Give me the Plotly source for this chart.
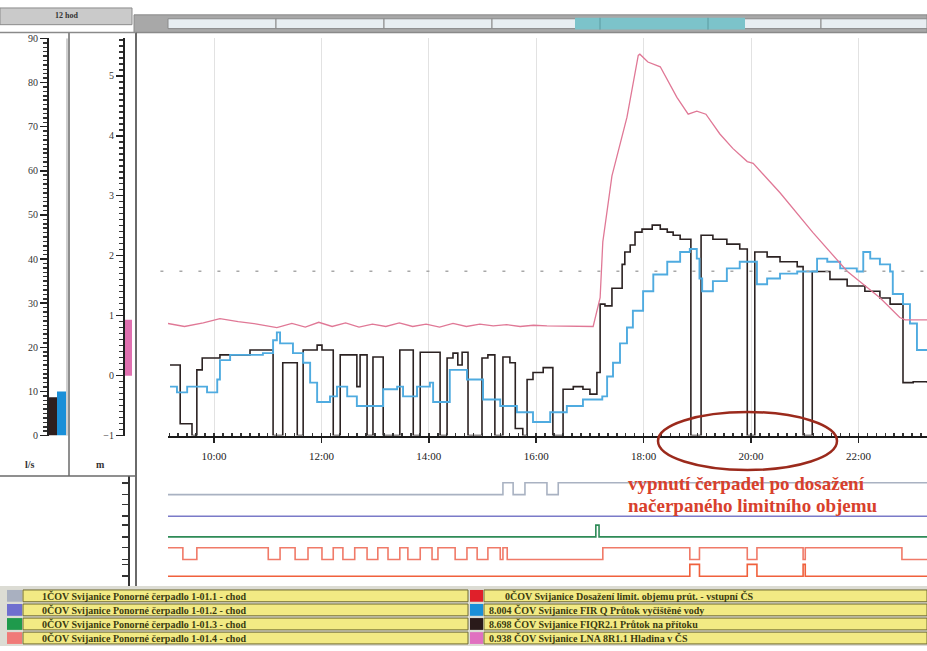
import plotly.graph_objects as go

W, H = 927, 651


def px(x):
    return x / W


def py(y):
    return 1 - y / H


# ---------------- data ----------------
hour_ticks = [10, 12, 14, 16, 18, 20, 22]
hour_labels = ["10:00", "12:00", "14:00", "16:00", "18:00", "20:00", "22:00"]
flow_ticks = [0, 10, 20, 30, 40, 50, 60, 70, 80, 90]
level_ticks = [-1, 0, 1, 2, 3, 4, 5]

# FIQR2.1 Průtok na přítoku [l/s] (step series)
inflow_t = [9.18, 9.37, 9.59, 9.68, 9.78, 10.11, 10.67, 11.10, 11.28, 11.55,
            11.66, 11.92, 12.01, 12.22, 12.35, 12.66, 12.72, 12.85, 12.96, 13.15,
            13.46, 13.71, 13.84, 14.21, 14.34, 14.45, 14.54, 14.62, 14.73, 14.99,
            15.10, 15.23, 15.38, 15.51, 15.61, 15.75, 15.83, 15.94, 16.13, 16.31,
            16.50, 16.69, 16.87, 17.00, 17.13, 17.19, 17.28, 17.41, 17.60, 17.65,
            17.75, 17.84, 17.97, 18.16, 18.31, 18.44, 18.55, 18.68, 18.88, 19.07,
            19.29, 19.55, 19.79, 19.93, 20.07, 20.30, 20.54, 20.86, 20.97, 21.14,
            21.47, 21.79, 22.12, 22.40, 22.59, 22.83, 23.02, 23.28]
inflow_v = [16.0, 2.7, 0, 14.9, 17.6, 18.3, 19.4, 0, 16.5, 0,
            19.4, 20.5, 19.4, 0, 18.3, 11.1, 18.3, 0, 17.8, 0,
            19.4, 0, 18.9, 0, 17.6, 18.7, 16.0, 18.9, 0, 17.6,
            18.3, 0, 17.8, 16.5, 1.6, 0, 12.7, 14.3, 15.4, 0,
            10.5, 11.1, 10.5, 9.4, 14.3, 29.8, 29.4, 33.4, 38.8, 41.6,
            43.2, 46.1, 46.8, 47.7, 46.8, 46.1, 45.4, 44.5, 0, 45.4,
            44.5, 43.4, 42.3, 0, 41.6, 40.5, 39.4, 38.3, 0, 37.2,
            35.4, 33.9, 32.7, 31.2, 29.8, 12.0, 12.2, 12.0]

# FIR Q Průtok vyčištěné vody [l/s]
outflow_t = [9.18, 9.31, 9.50, 9.68, 9.87, 10.06, 10.11, 10.30, 10.61, 10.91,
             11.10, 11.17, 11.23, 11.47, 11.66, 11.79, 11.92, 12.16, 12.29, 12.48,
             12.66, 12.91, 13.15, 13.41, 13.52, 13.78, 14.02, 14.08, 14.39, 14.71,
             15.01, 15.33, 15.64, 15.94, 16.26, 16.57, 16.87, 17.06, 17.23, 17.32,
             17.43, 17.56, 17.69, 17.80, 17.99, 18.18, 18.44, 18.68, 18.86, 18.99,
             19.04, 19.09, 19.29, 19.55, 19.79, 19.98, 20.11, 20.30, 20.54, 20.86,
             21.15, 21.23, 21.42, 21.66, 21.97, 22.09, 22.22, 22.40, 22.59, 22.64,
             22.83, 22.96, 23.09, 23.28]
outflow_v = [11.1, 9.8, 11.1, 11.1, 9.8, 12.7, 17.1, 18.3, 18.3, 18.7,
             21.6, 23.4, 20.9, 18.7, 16.5, 12.0, 7.6, 8.9, 11.1, 8.9,
             6.7, 6.7, 10.5, 11.1, 8.9, 11.1, 12.0, 7.6, 14.9, 12.7,
             8.2, 6.7, 5.3, 3.1, 5.3, 6.7, 8.2, 8.2, 8.9, 13.4,
             16.5, 20.9, 24.5, 28.3, 32.7, 36.5, 39.4, 41.6, 42.3, 40.1,
             35.6, 32.7, 35.0, 37.9, 39.4, 39.4, 34.3, 35.6, 36.7, 37.2,
             37.2, 40.1, 39.4, 37.9, 37.2, 41.6, 40.1, 38.8, 37.2, 32.1,
             29.8, 25.4, 19.4, 19.4]

# LNA 8R1.1 Hladina v ČS [m]
level_t = [9.14, 9.45, 9.80, 10.11, 10.45, 10.80, 11.17, 11.45, 11.70, 11.95,
           12.20, 12.45, 12.70, 12.95, 13.20, 13.45, 13.70, 13.95, 14.20, 14.45,
           14.70, 14.95, 15.20, 15.45, 15.70, 15.95, 16.20, 16.50, 16.80, 17.06,
           17.19, 17.24, 17.41, 17.69, 17.90, 17.93, 18.08, 18.31, 18.62, 18.83,
           18.99, 19.16, 19.42, 19.66, 19.93, 20.04, 20.54, 21.15, 21.79, 22.40,
           22.77, 22.87, 23.28]
level_v = [0.87, 0.82, 0.88, 0.95, 0.90, 0.86, 0.80, 0.87, 0.81, 0.89,
           0.82, 0.88, 0.81, 0.86, 0.82, 0.88, 0.82, 0.86, 0.81, 0.87,
           0.82, 0.86, 0.83, 0.85, 0.82, 0.84, 0.83, 0.83, 0.83, 0.82,
           1.30, 2.23, 3.33, 4.31, 5.34, 5.36, 5.23, 5.15, 4.64, 4.36,
           4.41, 4.36, 4.03, 3.79, 3.57, 3.54, 3.05, 2.39, 1.74, 1.30,
           0.97, 0.93, 0.93]

limit_level = 1.74          # dotted reference level [m]
gauge_inflow = 8.7          # current value bars
gauge_outflow = 10.0
gauge_level = 0.93

# digital signals (state changes: time, state)
pump1_t = [9.14, 15.38, 15.57, 15.79, 16.20, 16.41, 23.28]
pump1_s = [0, 1, 0, 1, 0, 1, 1]
pump2_t = [9.14, 23.28]
pump2_s = [0, 0]
pump3_t = [9.14, 17.11, 17.17, 23.28]
pump3_s = [0, 1, 0, 0]
pump4_t = [9.14, 9.42, 9.68, 11.01, 11.23, 11.51, 11.75, 12.01, 12.22, 12.40,
           12.62, 12.85, 13.05, 13.24, 13.46, 13.61, 13.84, 14.06, 14.17, 14.49,
           14.71, 14.90, 15.10, 15.33, 15.38, 15.46, 17.24, 18.86, 19.04, 19.93,
           20.11, 20.97, 21.01, 22.81, 23.28]
pump4_s = [1, 0, 1, 0, 1, 0, 1, 0, 1, 0,
           1, 0, 1, 0, 1, 0, 1, 0, 1, 0,
           1, 0, 1, 0, 1, 0, 1, 0, 1, 0,
           1, 0, 1, 0, 0]
limit_t = [9.14, 18.86, 19.04, 19.93, 20.11, 20.97, 21.01, 23.28]
limit_s = [0, 1, 0, 1, 0, 1, 0, 0]

legend_left = ["1ČOV Svijanice Ponorné čerpadlo 1-01.1 - chod",
               "0ČOV Svijanice Ponorné čerpadlo 1-01.2 - chod",
               "0ČOV Svijanice Ponorné čerpadlo 1-01.3 - chod",
               "0ČOV Svijanice Ponorné čerpadlo 1-01.4 - chod"]
legend_right = ["0ČOV Svijanice Dosažení limit. objemu prút. - vstupní ČS",
                "8.004 ČOV Svijanice FIR Q Průtok vyčištěné vody",
                "8.698 ČOV Svijanice FIQR2.1 Průtok na přítoku",
                "0.938 ČOV Svijanice LNA 8R1.1 Hladina v ČS"]
legend_left_colors = ["#a9b0c0", "#6f6fcf", "#1f9a4c", "#f07a78"]
legend_right_colors = ["#e0202a", "#1a8fd8", "#2a1a1a", "#e070c0"]

note_lines = ["vypnutí čerpadel po dosažení", "načerpaného limitního objemu"]

# ---------------- figure ----------------
SERIF = "Liberation Serif"
fig = go.Figure()

fig.add_trace(go.Scatter(x=inflow_t, y=inflow_v, mode="lines", line_shape="hv",
                         line=dict(color="#2b2222", width=1.6), xaxis="x", yaxis="y"))
fig.add_trace(go.Scatter(x=outflow_t, y=outflow_v, mode="lines", line_shape="hv",
                         line=dict(color="#4fabe0", width=1.9), xaxis="x", yaxis="y"))
fig.add_trace(go.Scatter(x=level_t, y=level_v, mode="lines",
                         line=dict(color="#e07896", width=1.3), xaxis="x", yaxis="y2"))

dig = [
    (pump1_t, pump1_s, 93, "#a9b2c2"),
    (pump2_t, pump2_s, 71, "#7a7ac8"),
    (pump3_t, pump3_s, 50, "#2e8b57"),
    (pump4_t, pump4_s, 27, "#f07a68"),
    (limit_t, limit_s, 10, "#f0603c"),
]
AMP = 12
dig_ticks = []
for t, s, base, col in dig:
    fig.add_trace(go.Scatter(x=t, y=[base + AMP * v for v in s], mode="lines",
                             line_shape="hv", line=dict(color=col, width=1.6),
                             xaxis="x2", yaxis="y3"))
    dig_ticks += [base, base + AMP]

shapes = []


def rect(x0, y0, x1, y1, fill, line="rgba(0,0,0,0)", lw=1, layer="below"):
    shapes.append(dict(type="rect", xref="paper", yref="paper", x0=px(x0), x1=px(x1),
                       y0=py(y1), y1=py(y0), fillcolor=fill,
                       line=dict(color=line, width=lw), layer=layer))


def line(x0, y0, x1, y1, color, lw=1, layer="above"):
    shapes.append(dict(type="line", xref="paper", yref="paper", x0=px(x0), x1=px(x1),
                       y0=py(y0), y1=py(y1), line=dict(color=color, width=lw), layer=layer))


# top header
rect(0, 2, 132, 19, "#cacaca", "#8c8c8c", 1)
rect(134, 9, 927, 27, "#a8a8a8", "#8a8a8a", 1)
for a, b in [(168, 276), (276, 384), (384, 492), (492, 600), (600, 708), (708, 821), (821, 927)]:
    rect(a, 13, b, 23, "#e8eef2", "#8a8a8a", 1)
rect(575, 12, 745, 24, "#7cc3ca", "rgba(0,0,0,0)")
line(600, 12, 600, 24, "#5a9aa0", 1)
line(708, 12, 708, 24, "#5a9aa0", 1)

# main frame / panels
line(136, 27, 927, 27, "#8a8a8a", 1.5)
line(136, 27, 136, 590, "#6a6a6a", 2)
line(69, 27, 69, 478, "#6a6a6a", 1.5)
line(0, 478, 136, 478, "#6a6a6a", 1.5)
line(0, 27, 136, 27, "#8a8a8a", 1.5)
line(67, 33, 67, 437, "#a0a0a0", 1)

# gauges (current values)
shapes.append(dict(type="rect", xref="paper", yref="y", x0=px(49), x1=px(57),
                   y0=0, y1=gauge_inflow, fillcolor="#2e1e1e", line=dict(width=0)))
shapes.append(dict(type="rect", xref="paper", yref="y", x0=px(57), x1=px(66),
                   y0=0, y1=gauge_outflow, fillcolor="#1a8fd8", line=dict(width=0)))
shapes.append(dict(type="rect", xref="paper", yref="y2", x0=px(125), x1=px(132),
                   y0=0, y1=gauge_level, fillcolor="#e070b0", line=dict(width=0)))

# limit reference
shapes.append(dict(type="line", xref="x domain", yref="y2", x0=-0.01, x1=1,
                   y0=limit_level, y1=limit_level,
                   line=dict(color="#a8a8a8", width=1.5, dash="3px,16px")))

# ellipse highlight
shapes.append(dict(type="circle", xref="paper", yref="paper", x0=px(658), x1=px(837),
                   y0=py(472), y1=py(413), line=dict(color="#9b2a1c", width=2.5)))

# legend rows
ROW0, ROWSTEP, ROWH = 594, 14.3, 12
rect(0, 590, 927, 651, "#dcdcd4")
for i in range(4):
    top = ROW0 + ROWSTEP * i
    rect(7, top, 22, top + ROWH, legend_left_colors[i], "rgba(0,0,0,0)")
    rect(23, top, 468, top + ROWH, "#f2ea84", "#6f6a30", 1)
    rect(470, top, 483, top + ROWH, legend_right_colors[i], "rgba(0,0,0,0)")
    rect(484, top, 927, top + ROWH, "#f2ea84", "#6f6a30", 1)

annotations = []


def text(x, y, s, size=10, color="#222", xanchor="center", family=SERIF):
    annotations.append(dict(x=px(x), y=py(y), xref="paper", yref="paper", text=s,
                            showarrow=False, xanchor=xanchor, yanchor="middle",
                            font=dict(family=family, size=size, color=color)))


text(66, 10, "<b>12 hod</b>", 8, "#333")
text(30, 466, "<b>l/s</b>", 10, "#333")
text(100, 466, "<b>m</b>", 10, "#333")
text(626, 486, "<b>%s</b>" % note_lines[0], 19, "#d8402c", "left")
text(626, 508, "<b>%s</b>" % note_lines[1], 19, "#d8402c", "left")
for i in range(4):
    top = ROW0 + ROWSTEP * i
    text(40, top + ROWH / 2, "<b>%s</b>" % legend_left[i], 10, "#3a3a10", "left")
    text(503 if i == 0 else 487, top + ROWH / 2, "<b>%s</b>" % legend_right[i], 10,
         "#3a3a10", "left")

dom_main = [py(437), py(33)]
fig.update_layout(
    width=W, height=H, margin=dict(l=0, r=0, t=0, b=0),
    paper_bgcolor="white", plot_bgcolor="white", showlegend=False,
    hovermode=False,
    xaxis=dict(domain=[px(168), 1], range=[9.143, 23.277], anchor="y",
               tickmode="array", tickvals=hour_ticks, ticktext=hour_labels,
               ticks="outside", ticklen=5, tickwidth=1.5, tickcolor="#222",
               showline=True, linecolor="#1a1a1a", linewidth=2,
               showgrid=True, gridcolor="#e2e2e2", gridwidth=1, zeroline=False,
               minor=dict(tick0=0, dtick=1 / 6, ticks="inside", ticklen=3,
                          tickcolor="#333", showgrid=False),
               tickfont=dict(family=SERIF, size=11, color="#222"),
               ticklabelstandoff=4),
    xaxis2=dict(domain=[px(168), 1], matches="x", anchor="y3", visible=False,
                showgrid=False),
    yaxis=dict(domain=dom_main, range=[0, 90], anchor="free", position=px(48),
               side="left", showline=True, linecolor="#222", linewidth=2,
               tickmode="array", tickvals=flow_ticks, ticks="outside", ticklen=7,
               tickwidth=1.5, tickcolor="#222", showgrid=False, zeroline=False,
               minor=dict(tick0=0, dtick=1, ticks="outside", ticklen=4, tickcolor="#333"),
               tickfont=dict(family=SERIF, size=10, color="#333")),
    yaxis2=dict(domain=dom_main, range=[-1, 5.623], overlaying="y", anchor="free",
                position=px(124), side="left", showline=True, linecolor="#222",
                linewidth=2, tickmode="array", tickvals=level_ticks, ticks="outside",
                ticklen=7, tickwidth=1.5, tickcolor="#222", showgrid=False,
                zeroline=False,
                minor=dict(tick0=0, dtick=0.1, ticks="outside", ticklen=4, tickcolor="#333"),
                tickfont=dict(family=SERIF, size=10, color="#333")),
    yaxis3=dict(domain=[py(590), py(478)], range=[0, 112], anchor="free",
                position=px(129), showline=True, linecolor="#333", linewidth=2,
                tickmode="array", tickvals=dig_ticks, ticks="outside", ticklen=6,
                tickwidth=1.5, tickcolor="#333", showticklabels=False,
                showgrid=False, zeroline=False),
    shapes=shapes, annotations=annotations,
)

fig.write_html("out.html",
               config={"displayModeBar": False, "staticPlot": True},
               post_script="document.body.style.margin='0px';"
                           "document.body.style.padding='0px';")
